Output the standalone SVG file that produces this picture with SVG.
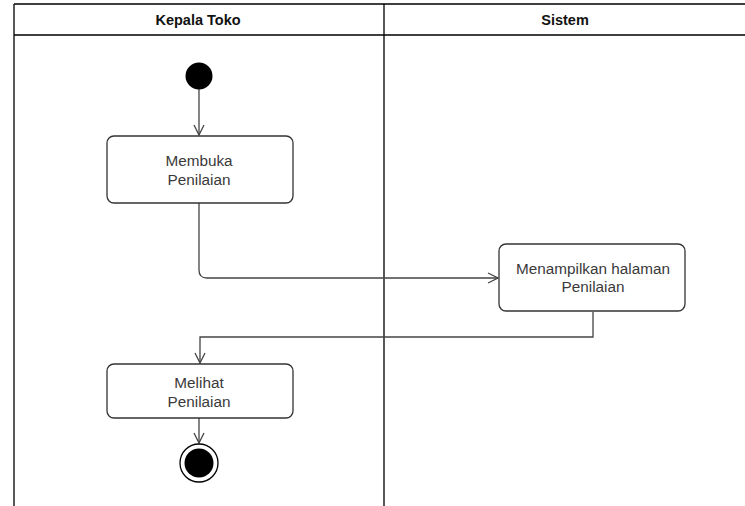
<svg xmlns="http://www.w3.org/2000/svg" width="745" height="506" viewBox="0 0 745 506">
  <defs>
    <style>
      .lane { fill: none; stroke: #000; stroke-width: 1.3; }
      .head { font-family: "Liberation Sans", Arial, sans-serif; font-size: 14.5px; font-weight: bold; fill: #111; text-anchor: middle; }
      .box { fill: #fff; stroke: #333; stroke-width: 1.3; }
      .label { font-family: "Liberation Sans", Arial, sans-serif; font-size: 15.3px; fill: #3a3a3a; text-anchor: middle; }
      .edge { fill: none; stroke: #444; stroke-width: 1.3; }
    </style>
    <marker id="open-arrow" viewBox="0 0 12 12" refX="11" refY="6" markerWidth="12" markerHeight="12" markerUnits="userSpaceOnUse" orient="auto">
      <path d="M1,1 L11,6 L1,11" fill="none" stroke="#444" stroke-width="1.3"/>
    </marker>
  </defs>
  <rect width="745" height="506" fill="#fff"/>

  <!-- swimlanes -->
  <g id="lanes">
    <path class="lane" d="M14,4 H747 M14,35 H747 M14,4 V506 M384,4 V506"/>
    <text class="head" x="198" y="25">Kepala Toko</text>
    <text class="head" x="565" y="25">Sistem</text>
  </g>

  <!-- connectors -->
  <g id="connectors">
    <path class="edge" d="M199,89 V135" marker-end="url(#open-arrow)"/>
    <path class="edge" d="M199,203 V270 Q199,278 207,278 H498" marker-end="url(#open-arrow)"/>
    <path class="edge" d="M593,312 V337 H200 V363" marker-end="url(#open-arrow)"/>
    <path class="edge" d="M199,418 V443" marker-end="url(#open-arrow)"/>
  </g>

  <g id="start">
    <circle cx="199" cy="76" r="13.5" fill="#000"/>
  </g>

  <g id="membuka-penilaian">
    <rect class="box" x="107" y="136" width="186" height="67" rx="7"/>
    <text class="label" x="199" y="166">Membuka</text>
    <text class="label" x="199" y="184.5">Penilaian</text>
  </g>

  <g id="menampilkan-halaman">
    <rect class="box" x="499" y="244" width="186" height="67" rx="7"/>
    <text class="label" x="593" y="273.5">Menampilkan halaman</text>
    <text class="label" x="593" y="292">Penilaian</text>
  </g>

  <g id="melihat-penilaian">
    <rect class="box" x="107" y="364" width="186" height="54" rx="7"/>
    <text class="label" x="199" y="388">Melihat</text>
    <text class="label" x="199" y="406.5">Penilaian</text>
  </g>

  <g id="end">
    <circle cx="199" cy="463" r="19" fill="#fff" stroke="#000" stroke-width="1.3"/>
    <circle cx="199" cy="463" r="14.5" fill="#000"/>
  </g>
</svg>
